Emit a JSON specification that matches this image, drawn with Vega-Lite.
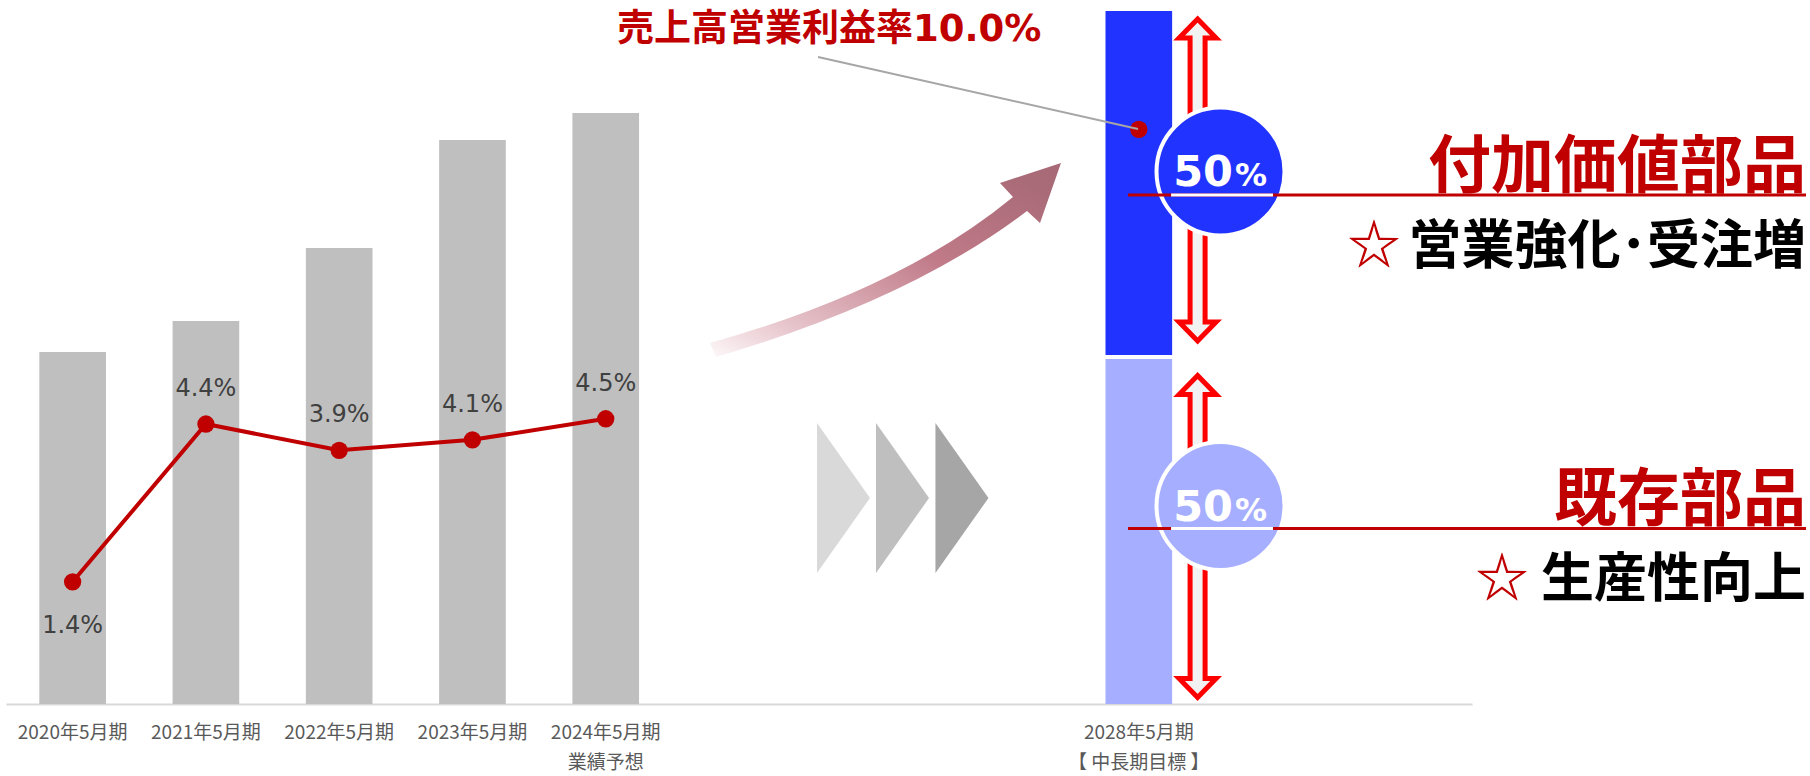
{
  "$schema": "https://vega.github.io/schema/vega-lite/v6.json",
  "width": 1466,
  "height": 694,
  "autosize": {"type": "none"},
  "padding": {"left": 6, "top": 10, "right": 338, "bottom": 72},
  "background": "white",
  "config": {"view": {"stroke": null}},
  "datasets": {
    "bars": [
      {"period": "2020年5月期", "part": "売上高", "lo": 0, "hi": 352},
      {"period": "2021年5月期", "part": "売上高", "lo": 0, "hi": 383},
      {"period": "2022年5月期", "part": "売上高", "lo": 0, "hi": 456},
      {"period": "2023年5月期", "part": "売上高", "lo": 0, "hi": 564},
      {"period": "2024年5月期", "part": "売上高", "lo": 0, "hi": 591},
      {"period": "2028年5月期", "part": "既存部品", "lo": 0, "hi": 345},
      {"period": "2028年5月期", "part": "付加価値部品", "lo": 349, "hi": 693}
    ],
    "margin": [
      {"period": "2020年5月期", "pct": 0.014},
      {"period": "2021年5月期", "pct": 0.044},
      {"period": "2022年5月期", "pct": 0.039},
      {"period": "2023年5月期", "pct": 0.041},
      {"period": "2024年5月期", "pct": 0.045}
    ],
    "target": [{"period": "2028年5月期", "pct": 0.10}],
    "arrow": [{"s": 6.603, "v": 444}],
    "chevrons": [
      {"s": 6.284, "v": 206, "step": "1"},
      {"s": 6.727, "v": 206, "step": "2"},
      {"s": 7.173, "v": 206, "step": "3"}
    ],
    "updown": [{"s": 8.941, "v": 524}, {"s": 8.941, "v": 167.5}],
    "shares": [
      {"part": "付加価値部品", "share": "50", "s": 9.113, "v": 532.5},
      {"part": "既存部品", "share": "50", "s": 9.113, "v": 198}
    ],
    "shareText": [
      {"share": "50", "s": 9.207, "v": 518},
      {"share": "50", "s": 9.207, "v": 183}
    ],
    "redlines": [
      {"s": 8.419, "s2": 13.506, "v": 509},
      {"s": 8.419, "s2": 13.506, "v": 175.5}
    ],
    "underlines": [
      {"s": 8.742, "s2": 9.507, "v": 509},
      {"s": 8.742, "s2": 9.507, "v": 175.5}
    ],
    "leader": [{"s": 6.093, "v": 647, "s2": 8.494, "v2": 575}],
    "headline": [{"t": "売上高営業利益率10.0%", "s": 4.585, "v": 663}],
    "titles": [
      {"t": "付加価値部品", "s": 13.506, "v": 517},
      {"t": "既存部品", "s": 13.506, "v": 184}
    ],
    "subs": [
      {"t": "営業強化･受注増", "s": 13.506, "v": 440},
      {"t": "生産性向上", "s": 13.506, "v": 107}
    ],
    "stars": [{"s": 10.265, "v": 440}, {"s": 11.226, "v": 107}]
  },
  "layer": [
    {
      "encoding": {
        "x": {
          "field": "period",
          "type": "nominal",
          "sort": null,
          "scale": {
            "domain": ["2020年5月期", "2021年5月期", "2022年5月期", "2023年5月期", "2024年5月期", "_1", "_2", "_3", "2028年5月期", "_4", "_5"],
            "paddingInner": 0.5,
            "paddingOuter": 0.25
          },
          "axis": {
            "title": null,
            "domainColor": "#d9d9d9",
            "domainWidth": 2,
            "ticks": false,
            "grid": false,
            "labelAngle": 0,
            "labelFont": "Noto Sans CJK JP",
            "labelFontSize": 19,
            "labelColor": "#595959",
            "labelPadding": 19,
            "labelLineHeight": 30,
            "labelOverlap": false,
            "labelBaseline": "top",
            "labelExpr": "indexof(datum.value, '_') == 0 ? '' : datum.value == '2024年5月期' ? ['2024年5月期', '業績予想'] : datum.value == '2028年5月期' ? ['2028年5月期', '【 中長期目標 】'] : datum.value"
          }
        }
      },
      "layer": [
        {
          "data": {"name": "bars"},
          "mark": {"type": "bar"},
          "encoding": {
            "y": {"field": "hi", "type": "quantitative", "scale": {"domain": [0, 694], "nice": false, "zero": false}, "axis": null},
            "y2": {"field": "lo"},
            "color": {
              "field": "part",
              "type": "nominal",
              "scale": {"domain": ["売上高", "付加価値部品", "既存部品"], "range": ["#bfbfbf", "#2033ff", "#a6aeff"]},
              "legend": null
            }
          }
        },
        {
          "encoding": {
            "y": {"field": "pct", "type": "quantitative", "scale": {"domain": [-0.00923, 0.12271], "nice": false, "zero": false}, "axis": null}
          },
          "layer": [
            {
              "data": {"name": "margin"},
              "mark": {"type": "line", "color": "#c00000", "strokeWidth": 4}
            },
            {
              "data": {"name": "margin"},
              "mark": {"type": "circle", "color": "#c00000", "size": 300, "opacity": 1}
            },
            {
              "data": {"name": "margin"},
              "transform": [{"filter": "datum.period != '2020年5月期'"}],
              "mark": {"type": "text", "font": "DejaVu Sans", "fontSize": 24, "color": "#404040", "baseline": "alphabetic", "dy": -28},
              "encoding": {"text": {"field": "pct", "type": "quantitative", "format": ".1%"}}
            },
            {
              "data": {"name": "margin"},
              "transform": [{"filter": "datum.period == '2020年5月期'"}],
              "mark": {"type": "text", "font": "DejaVu Sans", "fontSize": 24, "color": "#404040", "baseline": "alphabetic", "dy": 51},
              "encoding": {"text": {"field": "pct", "type": "quantitative", "format": ".1%"}}
            },
            {
              "data": {"name": "target"},
              "mark": {"type": "circle", "color": "#c00000", "size": 300, "opacity": 1}
            }
          ]
        }
      ],
      "resolve": {"scale": {"y": "independent"}}
    },
    {
      "encoding": {
        "x": {"field": "s", "type": "quantitative", "scale": {"domain": [0, 11], "nice": false, "zero": false}, "axis": null},
        "y": {"field": "v", "type": "quantitative", "scale": {"domain": [0, 694], "nice": false, "zero": false}, "axis": null}
      },
      "layer": [
        {
          "data": {"name": "arrow"},
          "mark": {
            "type": "point",
            "shape": "M -176 83 Q 14 30 127 -63 L 114 -77 L 175 -97 L 154 -37 L 141 -49 Q 24 40 -170 97 Z",
            "size": 4,
            "filled": true,
            "opacity": 1,
            "fill": {
              "gradient": "linear",
              "x1": 0, "y1": 1, "x2": 1, "y2": 0,
              "stops": [
                {"offset": 0, "color": "#fdf8f9"},
                {"offset": 0.2, "color": "#e6c3ca"},
                {"offset": 0.575, "color": "#c07a88"},
                {"offset": 0.9, "color": "#aa6b78"},
                {"offset": 1, "color": "#a86a77"}
              ]
            }
          }
        },
        {
          "data": {"name": "chevrons"},
          "mark": {"type": "point", "shape": "M -26.5 -75 L 26.5 0 L -26.5 75 Z", "size": 4, "filled": true, "opacity": 1},
          "encoding": {
            "fill": {"field": "step", "type": "nominal", "scale": {"domain": ["1", "2", "3"], "range": ["#d9d9d9", "#bfbfbf", "#a6a6a6"]}, "legend": null}
          }
        },
        {
          "data": {"name": "updown"},
          "mark": {
            "type": "point",
            "shape": "M 0 -161 L 18.5 -142 L 7.5 -142 L 7.5 142 L 18.5 142 L 0 161 L -18.5 142 L -7.5 142 L -7.5 -142 L -18.5 -142 Z",
            "size": 4,
            "filled": true,
            "opacity": 1,
            "fill": "#f2f2f2",
            "stroke": "#ff0000",
            "strokeWidth": 5
          }
        },
        {
          "data": {"name": "shares"},
          "mark": {"type": "point", "shape": "circle", "size": 16384, "filled": true, "opacity": 1, "stroke": "#ffffff", "strokeWidth": 4},
          "encoding": {
            "color": {"field": "part", "type": "nominal", "legend": null}
          }
        },
        {
          "data": {"name": "redlines"},
          "mark": {"type": "rule", "color": "#c00000", "strokeWidth": 3},
          "encoding": {"x2": {"field": "s2"}}
        },
        {
          "data": {"name": "underlines"},
          "mark": {"type": "rule", "color": "#ffffff", "strokeWidth": 3},
          "encoding": {"x2": {"field": "s2"}}
        },
        {
          "data": {"name": "shareText"},
          "mark": {"type": "text", "font": "DejaVu Sans", "fontWeight": "bold", "fontSize": 43, "color": "#ffffff", "align": "right", "baseline": "alphabetic"},
          "encoding": {"text": {"field": "share"}}
        },
        {
          "data": {"name": "shareText"},
          "mark": {"type": "text", "font": "DejaVu Sans", "fontWeight": "bold", "fontSize": 32, "color": "#ffffff", "align": "left", "baseline": "alphabetic", "dx": 2},
          "encoding": {"text": {"value": "%"}}
        },
        {
          "data": {"name": "leader"},
          "mark": {"type": "rule", "color": "#a6a6a6", "strokeWidth": 2},
          "encoding": {"x2": {"field": "s2"}, "y2": {"field": "v2"}}
        },
        {
          "data": {"name": "headline"},
          "mark": {"type": "text", "font": "DejaVu Sans, Noto Sans CJK JP", "fontWeight": "bold", "fontSize": 37, "color": "#c00000", "align": "left", "baseline": "alphabetic"},
          "encoding": {"text": {"field": "t"}}
        },
        {
          "data": {"name": "titles"},
          "mark": {"type": "text", "font": "Noto Sans CJK JP", "fontWeight": "bold", "fontSize": 63, "color": "#c00000", "align": "right", "baseline": "alphabetic"},
          "encoding": {"text": {"field": "t"}}
        },
        {
          "data": {"name": "subs"},
          "mark": {"type": "text", "font": "Noto Sans CJK JP", "fontWeight": "bold", "fontSize": 53, "color": "#000000", "align": "right", "baseline": "alphabetic"},
          "encoding": {"text": {"field": "t"}}
        },
        {
          "data": {"name": "stars"},
          "mark": {"type": "text", "font": "Noto Sans CJK JP", "fontWeight": "bold", "fontSize": 53, "color": "#c00000", "align": "center", "baseline": "alphabetic"},
          "encoding": {"text": {"value": "☆"}}
        }
      ]
    }
  ],
  "resolve": {"scale": {"x": "independent", "y": "independent"}}
}
